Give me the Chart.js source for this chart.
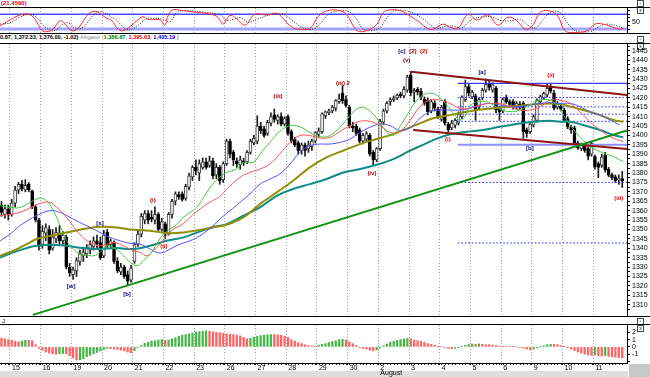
<!DOCTYPE html>
<html>
<head>
<meta charset="utf-8">
<script src="https://cdn.jsdelivr.net/npm/chart.js@4.4.0/dist/chart.umd.min.js"></script>
<style>
  html, body { margin: 0; padding: 0; background: #fff; }
  #page { position: relative; width: 650px; height: 377px; overflow: hidden; background: #fff; font-family: 'Liberation Sans', Arial, sans-serif; }
  canvas { position: absolute; left: 0; }
  .rule { position: absolute; left: 0; width: 650px; height: 1px; background: #000; }
  .txt { position: absolute; white-space: nowrap; line-height: 1; }
  .btns { position: absolute; left: 636px; font-size: 5px; line-height: 5px; }
  .btns span { display: inline-block; width: 5px; height: 5px; border: 1px solid #444; margin-left: 1px; text-align: center; vertical-align: top; color: #000; }
</style>
</head>
<body>
<div id="page">
  <!-- bandes grises de l'axe du temps -->
  <div style="position:absolute;left:0;top:371px;width:628px;height:6px;background:#dedede"></div>
  <div style="position:absolute;left:629px;top:364px;width:21px;height:13px;background:#c8c8c8"></div>

  <div class="txt" style="left:1px;top:0;color:#e00000;font-weight:bold;font-size:6px">(21.4590)</div>
  <div class="btns" style="top:0"><span>&#9643;</span><span>x</span></div>
  <div class="rule" style="top:7px"></div>
  <canvas id="osc" width="650" height="25" style="top:8px;width:650px;height:25px"></canvas>
  <div class="rule" style="top:33px"></div>
  <div class="txt" style="left:0;top:35px;font-weight:bold;font-size:5.6px">
    <span style="color:#000">0.87, 1,372.33, 1,376.00, -1.02)</span>
    <span style="color:#8a8a8a;font-weight:normal">Alligator (</span><span style="color:#008000">1,386.87</span><span style="color:#8a8a8a">, </span><span style="color:#e00000">1,395.63</span><span style="color:#8a8a8a">, </span><span style="color:#0000e0">1,405.19</span><span style="color:#8a8a8a"> )</span>
  </div>
  <div class="btns" style="top:36px"><span>&#9643;</span><span>x</span></div>
  <div class="rule" style="top:43px"></div>
  <canvas id="main" width="650" height="272" style="top:44px;width:650px;height:272px"></canvas>
  <div class="rule" style="top:316px"></div>
  <div class="txt" style="left:2px;top:318px;font-size:6px">J</div>
  <div class="btns" style="top:318px"><span>&#9643;</span><span>x</span></div>
  <div class="rule" style="top:324px"></div>
  <canvas id="ao" width="650" height="52" style="top:325px;width:650px;height:52px"></canvas>
</div>

<script>
// bornes de l'axe du temps (index de barre)
const xMin = -0.43;
const xMax = 183.4;

// début de chaque séance et libellés
const dayStarts = [2.5, 11.5, 20.5, 29.5, 38.5, 47.5, 56.5, 65.5, 74.5, 83.5, 92.5, 101.5, 110.5, 119.5, 128.5, 137.5, 146.5, 155.5, 164.5, 173.5];
const dayLabels = ['15', '16', '19', '20', '21', '22', '23', '26', '27', '28', '29', '30', ['2', 'August'], '3', '4', '5', '6', '9', '10', '11'];

// bougies
const openP = [
  1363, 1358, 1361, 1358, 1364, 1371, 1374, 1371, 1374, 1370.5,
  1362, 1355, 1342, 1348, 1350, 1340, 1345, 1348, 1344, 1346,
  1330, 1326, 1328, 1333, 1336, 1337, 1339, 1341, 1344, 1343,
  1336, 1348.5, 1342, 1343, 1333, 1327.5, 1330, 1326, 1323, 1333,
  1342, 1347.5, 1355, 1358.5, 1356.5, 1355, 1358, 1350, 1353, 1347.5,
  1358, 1365, 1368.5, 1369, 1366.5, 1372.5, 1378, 1383, 1380, 1383,
  1386, 1384, 1386.5, 1379, 1383, 1376.5, 1385, 1397, 1391, 1386.5,
  1384.5, 1386.5, 1386, 1391, 1396, 1397, 1405, 1403.5, 1401, 1406.5,
  1411, 1408, 1410, 1406, 1410, 1402, 1398, 1396, 1392, 1395,
  1393, 1394, 1397, 1400.5, 1402, 1410.5, 1412, 1413, 1414.5, 1418,
  1422.5, 1419, 1415, 1405, 1405, 1403, 1397, 1398, 1400, 1391,
  1387, 1393, 1407, 1413, 1418, 1419, 1420, 1422, 1421, 1424,
  1432, 1423, 1424.5, 1423.5, 1419.5, 1418.8, 1413, 1417, 1414, 1408.5,
  1418, 1406, 1404, 1405.5, 1406.5, 1410, 1419, 1426, 1420.5, 1421,
  1415, 1420, 1424, 1427.5, 1424, 1425, 1414, 1413, 1420, 1418,
  1418, 1415, 1416.5, 1417, 1403, 1402, 1405.5, 1408, 1418, 1420,
  1421.5, 1426, 1422.5, 1415, 1415.5, 1413.5, 1409, 1404.6, 1404, 1396,
  1393, 1394.5, 1393, 1390, 1388.7, 1385, 1384, 1389.5, 1382, 1379,
  1378, 1376.5, 1377
];
const highP = [
  1365, 1363, 1363, 1366, 1373, 1375, 1376, 1376.5, 1375, 1371,
  1363, 1356, 1352, 1353, 1352, 1350, 1351, 1352, 1349, 1347,
  1332, 1330, 1335, 1339, 1340, 1342, 1344, 1346, 1347, 1346,
  1349.5, 1350, 1345, 1344, 1335, 1332, 1331, 1328, 1331, 1343,
  1349, 1358.5, 1360, 1360, 1360, 1362, 1359, 1356, 1354, 1359,
  1366, 1370, 1370, 1370, 1374, 1380, 1384, 1387, 1387, 1388,
  1388, 1389, 1388, 1385, 1384, 1386, 1398, 1398, 1392, 1388,
  1389, 1388, 1392, 1398, 1400, 1410.5, 1407, 1405, 1408, 1412,
  1414, 1411, 1412, 1410, 1411, 1403, 1399, 1397, 1396, 1396,
  1397, 1398, 1402, 1404, 1412, 1413, 1414, 1416, 1419, 1422,
  1426.5, 1421, 1416, 1407, 1406, 1404, 1401, 1402, 1401, 1392,
  1393.5, 1408.5, 1414, 1418, 1420, 1421, 1422, 1423, 1426, 1432,
  1434, 1425, 1425.5, 1425, 1420.5, 1420, 1419, 1418.5, 1415, 1416,
  1419, 1407, 1408, 1409, 1412.5, 1421, 1429.4, 1427.5, 1424, 1422,
  1420, 1425, 1430, 1429, 1428, 1426, 1415.5, 1420, 1421.5, 1419,
  1419, 1418, 1418, 1418, 1404, 1407, 1411, 1419.5, 1421.5, 1423,
  1427.7, 1427.5, 1424, 1418, 1416.5, 1414.5, 1410, 1405.5, 1405, 1397,
  1396, 1395.5, 1394, 1396.7, 1389.5, 1386, 1390, 1391, 1383, 1380,
  1379, 1379, 1380.87
];
const lowP = [
  1357, 1356, 1355, 1357, 1362, 1369, 1370.5, 1370, 1370, 1361,
  1354, 1339, 1340, 1344, 1337, 1339, 1343, 1342, 1342, 1329,
  1325, 1323.5, 1325, 1331, 1333, 1335, 1337, 1339, 1340, 1334,
  1335, 1340, 1340, 1332, 1327, 1326, 1324, 1320.5, 1322, 1332,
  1341, 1346, 1353, 1353, 1354, 1353, 1349, 1349, 1345, 1347,
  1356, 1363, 1366, 1365, 1365.5, 1371, 1376, 1379, 1376, 1382,
  1382, 1383, 1377, 1377, 1374, 1375, 1384, 1388, 1384, 1383,
  1382, 1384, 1385, 1390, 1395, 1395.5, 1401, 1399, 1400, 1405,
  1407, 1406, 1405, 1405, 1400, 1396, 1394, 1390, 1390, 1389,
  1391, 1392, 1396, 1399, 1401, 1409, 1411, 1412, 1413, 1417,
  1417, 1415, 1404, 1402, 1400, 1396, 1395.5, 1397, 1389, 1384,
  1386, 1392, 1406, 1412, 1416, 1418, 1419, 1420, 1420, 1423,
  1421, 1418, 1421.5, 1419, 1416, 1411, 1412, 1413, 1409, 1407.5,
  1405.5, 1402, 1403, 1404, 1405.5, 1409, 1418, 1421, 1419.5, 1408,
  1414, 1419, 1423, 1424, 1423, 1412, 1408, 1412, 1417, 1415,
  1414, 1414, 1414, 1398.5, 1399, 1401, 1404.5, 1407, 1417, 1419,
  1420.5, 1422.5, 1413.5, 1414, 1413, 1407, 1403.5, 1401, 1395, 1392.5,
  1392, 1391, 1387, 1389, 1382, 1377.5, 1383, 1380.5, 1378, 1376.5,
  1375, 1374, 1372.33
];
const closeP = [
  1359, 1361, 1358, 1364, 1371, 1374, 1371.5, 1373.5, 1371, 1362,
  1355, 1341, 1349, 1351, 1339, 1346, 1348.5, 1344, 1347, 1330,
  1327, 1328.5, 1333.5, 1337, 1338, 1340, 1342, 1344, 1342.5, 1335,
  1347, 1341.5, 1344, 1333, 1328, 1330, 1325, 1322.5, 1329.5, 1342,
  1347.5, 1357, 1358.5, 1355, 1355.5, 1358, 1350, 1354, 1347.5, 1358,
  1365, 1369, 1367.5, 1366, 1373, 1378.5, 1383, 1381, 1385, 1386,
  1383, 1386.5, 1378.5, 1383, 1376, 1385, 1397, 1390, 1387, 1385,
  1387, 1385.5, 1391, 1397, 1398.5, 1405, 1402.5, 1400, 1407, 1410,
  1408.5, 1410, 1406, 1409, 1401, 1397, 1395, 1392, 1395, 1392,
  1395, 1397, 1401.5, 1402.5, 1411.5, 1412.5, 1413, 1415, 1418.5, 1419.5,
  1418.5, 1416, 1405, 1404, 1401, 1397, 1400, 1401, 1390, 1387,
  1393, 1407.5, 1413, 1417, 1419, 1420, 1421.5, 1421, 1424.5, 1431,
  1422.5, 1424, 1423, 1420.6, 1417, 1412.6, 1418, 1414.5, 1410, 1415,
  1406.5, 1403, 1406.5, 1408, 1411.5, 1420.5, 1425.9, 1422.4, 1423, 1413,
  1419, 1424, 1427, 1425.5, 1427, 1413.5, 1412.5, 1419, 1418, 1416.5,
  1415.5, 1417, 1415, 1402, 1401, 1406, 1410, 1418.8, 1420.6, 1422.4,
  1425, 1423.5, 1414.5, 1417, 1414, 1408, 1404.6, 1403, 1395.8, 1393.5,
  1395, 1392, 1389, 1395.8, 1383.4, 1383, 1388.5, 1381.6, 1378.9, 1377.6,
  1376, 1377, 1376
];

// moyennes mobiles : [barre, prix]
const lipsGreen = [[-0.4,1362.6],[2.5,1361.7],[5.4,1361.7],[8.4,1364.4],[10.3,1366.2],[11.8,1366.7],[13.7,1364.4],[15.7,1358.2],[17.2,1352],[19.1,1344],[21.1,1339.6],[23,1336.9],[25,1336.4],[27,1336],[28.9,1337.8],[30.9,1341.3],[32.8,1340.4],[34.8,1337.8],[37.2,1333.4],[39.7,1330.7],[41.6,1333.4],[43.6,1336.9],[45.5,1342.2],[47.5,1347.5],[49.4,1350.2],[51.4,1352.8],[53.3,1356.4],[55.3,1359.1],[57.3,1361.7],[59.2,1367],[61.2,1372.4],[63.5,1377],[66,1380.3],[68.9,1382.1],[70.9,1385.7],[73.8,1385.7],[75.8,1390.1],[78.7,1396.3],[81.6,1402.1],[84.6,1405.2],[87.5,1404.6],[90.4,1401.6],[93.4,1399.3],[96.3,1399.9],[99.2,1404.3],[102.2,1410.5],[104.1,1414],[106.1,1414.9],[109,1411.4],[111.9,1404.3],[114.4,1399.9],[116.3,1403.4],[118.8,1410.5],[121.7,1418.5],[124.2,1422],[125.6,1422.4],[127.6,1421.5],[130.5,1416.2],[132.9,1410.8],[134.4,1408.2],[135.9,1410],[137.3,1415.3],[139.3,1417.9],[142.2,1417.9],[144.2,1416.2],[146.1,1413.9],[149.1,1412.6],[152,1413.5],[154.9,1416.2],[157.9,1418.8],[160.8,1418.8],[162.7,1416.2],[165.7,1408.2],[168.6,1401.1],[171.5,1395.8],[175.5,1391.4],[179.4,1388.7],[182.3,1386.1]];
const teethRed = [[-0.4,1357.3],[5.4,1359.1],[11.3,1363.9],[14.2,1364.4],[16.2,1361.7],[19.1,1356.4],[22.1,1349.3],[25,1344],[27,1342.2],[28.9,1341.3],[30.9,1342.2],[32.8,1343.1],[34.8,1342.2],[36.7,1340.4],[38.7,1338.7],[40.6,1337.8],[42.6,1336],[44.5,1338.7],[46.5,1342.2],[48.4,1346.6],[50.4,1350.2],[52.4,1352],[54.3,1354.6],[56.3,1358.2],[58.2,1360.8],[60.2,1363.5],[62.6,1366],[64,1367.5],[67,1373.2],[69.9,1377.7],[72.8,1380.3],[75.8,1382.1],[78.7,1384.8],[81.6,1390.1],[84.6,1396.3],[87.5,1399.9],[90.4,1399.9],[93.4,1398.6],[96.3,1399],[99.2,1402.1],[102.2,1405.2],[105.1,1407.5],[108,1407.5],[111,1405.2],[113.9,1401.6],[116.8,1402.1],[119.8,1408],[122.7,1415.3],[125.6,1418.8],[128.5,1418.8],[131.5,1417],[134.4,1414.4],[137.3,1414.4],[140.3,1416.2],[143.2,1417],[146.1,1417],[149.1,1415.3],[152,1413.5],[154.9,1413.5],[157.9,1415.3],[160.8,1418.8],[163.7,1418.8],[166.7,1417],[169.6,1412.6],[172.5,1407.3],[175.5,1402.9],[178.4,1399.3],[182.3,1396.7]];
const jawBlue = [[-0.4,1344],[2.5,1347.5],[5.4,1352],[8.4,1355.5],[11.3,1358.2],[14.2,1360],[17.2,1359.1],[20.1,1356.4],[23,1353.7],[26,1351.1],[28.9,1348.4],[31.8,1345.8],[34.8,1344],[37.7,1342.6],[40.6,1342.2],[43.6,1339.6],[45.5,1337.8],[47.5,1337.8],[49.4,1339.6],[52.4,1342.2],[55.3,1344],[58.2,1346.6],[60.2,1349.3],[62.6,1352.8],[64,1355.5],[67,1360],[69.9,1364.4],[72.8,1368.8],[75.8,1374.1],[78.7,1376.8],[81.6,1379.5],[84.6,1384.8],[87.5,1391],[90.4,1394.5],[93.4,1395.4],[96.3,1395.4],[99.2,1396.3],[102.2,1398.1],[105.1,1401.6],[108,1404.3],[111,1406],[113.9,1405.2],[116.8,1402.7],[119.8,1404],[122.7,1409.1],[125.6,1412.6],[128.5,1413.5],[131.5,1413.5],[134.4,1413.5],[137.3,1414.4],[140.3,1416.2],[143.2,1417],[146.1,1416.2],[149.1,1415.3],[152,1415.3],[154.9,1416.2],[157.9,1417],[160.8,1417.4],[163.7,1417],[166.7,1417],[169.6,1415.3],[172.5,1412.6],[175.5,1410.8],[178.4,1408.2],[181.3,1405.5]];
const oliveAvg = [[-0.4,1336],[3.5,1338.7],[7.4,1342.2],[10.3,1344.9],[14.2,1346.6],[19.1,1348.4],[24,1350.2],[28.9,1351.4],[33.8,1351.1],[38.7,1349.8],[43.6,1349.3],[48.4,1348.1],[53.3,1348.4],[58.2,1349.7],[62.6,1351.4],[66,1352.5],[70.9,1356.4],[75.8,1363.5],[80.7,1369.7],[85.5,1375.9],[90.4,1383],[95.3,1388.3],[100.2,1391.9],[105.1,1395.4],[110,1398.1],[114.9,1400.7],[119.8,1404.3],[124.2,1407.5],[126.6,1409.1],[131.5,1410.8],[136.4,1412.6],[141.2,1413.9],[146.1,1414.9],[151,1415.6],[155.9,1416.5],[160.8,1417],[163.7,1416.7],[166.7,1415.3],[170.6,1413.5],[175.5,1410.8],[179.4,1408.2],[182.3,1407.3]];
const tealAvg = [[-0.4,1335.1],[3.5,1337.8],[7.4,1340.1],[10.3,1341.3],[14.2,1341.9],[19.1,1341.3],[24,1340.1],[28.9,1339.6],[33.8,1340.1],[38.7,1339.6],[43.6,1341.3],[48.4,1344],[53.3,1345.8],[58.2,1349],[62.6,1351.4],[66,1352.8],[70.9,1357.3],[75.8,1361.7],[80.7,1367.9],[85.5,1371.5],[90.4,1374.1],[95.3,1376.8],[100.2,1380.3],[105.1,1382.1],[110,1384.4],[114.9,1387.4],[119.8,1391.9],[124.2,1395.5],[126.6,1397.5],[131.5,1400.6],[136.4,1402],[141.2,1402.9],[146.1,1404.6],[151,1406.1],[155.9,1407.3],[160.8,1407.8],[163.7,1407.3],[166.7,1407.3],[170.6,1405.5],[175.5,1402.9],[179.4,1400.2],[182.3,1399]];

// droites tracées à la main : [barre, prix]
const greenTrend = [[9.2, 1304.6], [183.4, 1402.6]];
const upperChannel = [[120.1, 1433.8], [183.4, 1421.5]];
const lowerChannel = [[120.7, 1402.9], [183.4, 1392.8]];

// niveaux horizontaux
const levelStart = 133.8;
const solidLevels = [1427.7, 1395];
const dottedLevels = [1420.2, 1415.2, 1411.3, 1407.5, 1375, 1342.8];

// graduations prix
const priceTicks = [1310, 1315, 1320, 1325, 1330, 1335, 1340, 1345, 1350, 1355, 1360, 1365, 1370, 1375, 1380, 1385, 1390, 1395, 1400, 1405, 1410, 1415, 1420, 1425, 1430, 1435, 1440, 1445];

// étiquettes d'Elliott
const waveText = ['[x]', '(i)', '(ii)', '[w]', '[b]', '(iii)', '(iii) 2', '(iv)', '[c]', '[2]', '(2)', '(v)', '[a]', '(ii)', '(i)', '[b]', '(iii)'];
const waveBar = [28.9, 44.4, 47.6, 20.4, 36.8, 81.1, 100.1, 108.6, 117.4, 120.6, 123.8, 118.8, 140.9, 161.1, 130.9, 154.9, 181];
const wavePrice = [1353.4, 1365.6, 1341, 1320, 1315.7, 1420.9, 1427.8, 1380, 1444.8, 1444.8, 1444.8, 1439.7, 1433.7, 1432.1, 1398, 1393.3, 1366.7];

// oscillateur du haut : [barre, valeur]
const oscFast = [[-0.4,32],[2.5,57],[5.4,77],[7.5,81],[9.2,70],[10.7,40],[11.8,15],[13.3,9],[15.1,19],[17.2,54],[18.6,40],[20.7,13],[22.4,23],[24.5,64],[26,87],[28,91],[29.5,77],[30.9,64],[32.4,54],[33.9,23],[35.6,13],[37.7,30],[39.7,54],[41.5,70],[43,60],[46.5,57],[47.9,36],[48.8,73],[50.3,98],[52.9,95],[55.3,91],[58.2,87],[61.1,81],[63.5,68],[64.9,40],[67,75],[69.1,60],[71.4,36],[74.3,80],[77.8,77],[80.8,84],[82.5,64],[85.2,27],[87.5,19],[90.5,23],[92.8,70],[95.4,94],[99.2,95],[101.3,77],[103.6,23],[105.1,9],[108,19],[110.1,40],[111.9,87],[113.9,98],[116.8,95],[119.8,73],[122.7,46],[124.8,23],[126.5,19],[129.5,40],[131.5,27],[133.8,23],[136.8,80],[139.4,57],[142.6,77],[145.6,36],[148.5,68],[151.1,54],[153.5,19],[155.5,30],[157.9,87],[160.2,95],[162.9,77],[165.2,13],[167.6,6],[171.7,13],[174,40],[176.4,40],[179.3,27],[181.3,19],[182.2,23]];
const oscSlow = [[-0.4,40],[2.5,45],[5.4,68],[7.5,79],[9.2,78],[10.7,62],[12.3,35],[14.2,15],[16,16],[18,40],[19.6,45],[21.5,25],[23.3,22],[25.5,50],[27,78],[29,90],[30.5,85],[32,70],[33.4,60],[35,38],[36.6,18],[38.7,22],[40.7,42],[42.5,62],[44,64],[47.5,60],[49,48],[50,58],[51.3,86],[54,96],[56.3,93],[59.2,89],[62.1,84],[64.5,75],[66,55],[68,60],[70,66],[72.4,48],[75.3,62],[78.8,78],[81.8,82],[83.5,74],[86.2,45],[88.5,24],[91.5,20],[93.8,48],[96.4,84],[100.2,95],[102.3,88],[104.6,50],[106.1,18],[109,14],[111.1,28],[112.9,64],[114.9,92],[117.8,96],[120.8,84],[123.7,60],[125.8,36],[127.5,22],[130.5,32],[132.5,32],[134.8,24],[137.8,58],[140.4,68],[143.6,70],[146.6,54],[149.5,54],[152.1,60],[154.5,34],[156.5,24],[158.9,60],[161.2,90],[163.9,86],[166.2,40],[168.6,12],[172.7,10],[175,28],[177.4,40],[180.3,33],[182.5,22]];
const oscBands = [80, 20];

// histogramme du bas
const aoValues = [
  1.2, 1.1, 1.0, 0.9, 0.75, 0.7, 0.8, 0.9, 0.9, 0.85,
  0.3, -0.2, -0.45, -0.7, -0.85, -0.95, -1.0, -0.95, -0.9, -0.95,
  -1.2, -1.5, -1.8, -1.75, -1.6, -1.35, -1.15, -0.95, -0.75, -0.55,
  -0.35, -0.2, -0.25, -0.3, -0.35, -0.45, -0.55, -0.7, -0.8, -0.5,
  -0.1, 0.2, 0.5, 0.65, 0.8, 0.85, 0.95, 1.0, 0.9, 0.95,
  1.1, 1.25, 1.45, 1.6, 1.7, 1.8, 1.9, 2.05, 2.1, 2.15,
  2.2, 2.15, 2.05, 2.0, 1.95, 1.85, 1.8, 1.75, 1.7, 1.6,
  1.5, 1.3, 1.1, 1.2, 1.35, 1.45, 1.55, 1.6, 1.65, 1.7,
  1.7, 1.65, 1.6, 1.45, 1.3, 1.0, 0.8, 0.6, 0.45, 0.3,
  0.2, 0.12, 0.1, 0.2, 0.35, 0.45, 0.6, 0.75, 0.85, 1.0,
  1.05, 0.95, 0.7, 0.45, 0.2, -0.1, -0.2, -0.3, -0.45, -0.55,
  -0.4, -0.15, 0.15, 0.4, 0.65, 0.8, 0.9, 1.0, 1.1, 1.15,
  1.1, 0.95, 0.85, 0.75, 0.6, 0.45, 0.35, 0.25, 0.1, 0.05,
  -0.1, -0.2, -0.25, -0.2, -0.1, 0.05, 0.2, 0.35, 0.4, 0.35,
  0.4, 0.35, 0.3, 0.3, 0.25, 0.2, 0.1, 0.08, 0.05, 0.05,
  0.03, 0.0, -0.05, -0.15, -0.3, -0.4, -0.3, -0.15, 0.05, 0.15,
  0.3, 0.35, 0.35, 0.3, 0.2, 0.05, -0.1, -0.3, -0.5, -0.7,
  -0.85, -1.0, -1.1, -1.15, -1.1, -1.2, -1.25, -1.2, -1.3, -1.35,
  -1.4, -1.45, -1.5
];

const FONT = "'Liberation Sans', Arial, sans-serif";
Chart.defaults.font.family = FONT;

const pts = arr => arr.map(p => ({ x: p[0], y: p[1] }));
const across = v => [{ x: xMin, y: v }, { x: xMax, y: v }];

// axe du temps commun aux trois panneaux
function timeAxis(withLabels) {
  return {
    type: 'linear', min: xMin, max: xMax, bounds: 'data', offset: false,
    afterBuildTicks: s => { s.ticks = dayStarts.map(v => ({ value: v })); },
    afterFit: s => { s.height = withLabels ? 14 : 0; s.paddingLeft = 0; s.paddingRight = 0; },
    grid: { color: '#a0a0a0', lineWidth: 1, offset: false, drawTicks: withLabels, tickLength: 2, tickColor: '#000' },
    border: { display: withLabels, color: '#000', dash: [1, 2] },
    ticks: {
      display: withLabels, autoSkip: false, maxRotation: 0, minRotation: 0, align: 'start',
      labelOffset: 2, padding: 0, color: '#000', font: { size: 7, lineHeight: 0.8 },
      callback: (v, i) => dayLabels[i]
    }
  };
}

// axe de droite commun
function rightAxis(min, max, tickValues, label) {
  return {
    position: 'right', min: min, max: max, bounds: 'data',
    afterBuildTicks: s => { s.ticks = tickValues.map(v => ({ value: v })); },
    afterFit: s => { s.width = 23; s.paddingTop = 0; s.paddingBottom = 0; },
    grid: { drawOnChartArea: false, drawTicks: true, tickLength: 3, color: '#000' },
    border: { display: true, color: '#000', width: 1 },
    ticks: { autoSkip: false, padding: 2, color: '#000', font: { size: 7 }, callback: label }
  };
}

const baseOptions = {
  responsive: false, animation: false, devicePixelRatio: 1,
  layout: { padding: 0 },
  plugins: { legend: { display: false }, tooltip: { enabled: false } },
  events: []
};

// --- panneau du haut ---
new Chart(document.getElementById('osc'), {
  type: 'line',
  data: {
    datasets: [
      { data: pts(oscFast), borderColor: '#ff2a2a', borderWidth: 1, pointRadius: 0, tension: 0.4, order: 0 },
      { data: pts(oscSlow), borderColor: '#222', borderWidth: 1, borderDash: [1, 1.5], pointRadius: 0, tension: 0.4, order: 1 },
      { data: across(oscBands[0]), borderColor: '#4848ff', borderWidth: 1.5, pointRadius: 0, order: 2 },
      { data: across(oscBands[1]), borderColor: '#a4a4ff', borderWidth: 3, pointRadius: 0, order: 2 }
    ]
  },
  options: {
    ...baseOptions,
    scales: {
      x: timeAxis(false),
      y: rightAxis(3.7, 105.7, [20, 35, 50, 65, 80, 95], v => (v === 50 ? '50' : ''))
    }
  }
});

// --- étiquettes d'Elliott ---
const waveTextPlugin = {
  id: 'waveText',
  afterDatasetsDraw(chart) {
    const { ctx, scales: { x, y } } = chart;
    ctx.save();
    ctx.font = 'bold 6px ' + FONT;
    ctx.textAlign = 'center';
    ctx.textBaseline = 'middle';
    waveText.forEach((t, i) => {
      ctx.fillStyle = t.startsWith('[') ? (t === '[2]' ? '#a00000' : '#00007a') : (waveBar[i] > 125 || t === '(2)' || t === '(ii)' ? '#e00000' : '#a00000');
      ctx.fillText(t, x.getPixelForValue(waveBar[i]), y.getPixelForValue(wavePrice[i]));
    });
    ctx.restore();
  }
};

const isUp = i => closeP[i] >= openP[i];
const lineSet = (arr, color, width) => ({ type: 'line', data: pts(arr), borderColor: color, borderWidth: width, pointRadius: 0, tension: 0.4, order: 0 });

const mainSets = [
  { type: 'line', data: pts(greenTrend), borderColor: '#129212', borderWidth: 2, pointRadius: 0, order: 0 },
  { type: 'line', data: pts(upperChannel), borderColor: '#8e1414', borderWidth: 2, pointRadius: 0, order: 0 },
  { type: 'line', data: pts(lowerChannel), borderColor: '#8e1414', borderWidth: 2, pointRadius: 0, order: 0 },
  lineSet(lipsGreen, '#3ec83e', 1),
  lineSet(teethRed, '#ff5252', 1),
  lineSet(jawBlue, '#5252ff', 1),
  lineSet(oliveAvg, '#8f8f0a', 2),
  lineSet(tealAvg, '#138a8a', 2),
  { type: 'line', data: [{ x: levelStart, y: solidLevels[0] }, { x: xMax, y: solidLevels[0] }], borderColor: '#3c3cff', borderWidth: 1.3, pointRadius: 0, order: 1 },
  { type: 'line', data: [{ x: levelStart, y: solidLevels[1] }, { x: xMax, y: solidLevels[1] }], borderColor: '#9090ff', borderWidth: 2, pointRadius: 0, order: 1 }
];
dottedLevels.forEach(v => {
  mainSets.push({ type: 'line', data: [{ x: levelStart, y: v }, { x: xMax, y: v }], borderColor: '#2020ff', borderWidth: 1, borderDash: [1.5, 2], pointRadius: 0, order: 1 });
});
mainSets.push({
  type: 'bar',
  data: openP.map((o, i) => ({ x: i, y: [o, closeP[i]] })),
  backgroundColor: ctx => (isUp(ctx.dataIndex) ? '#ffffff' : '#000000'),
  borderColor: ctx => (isUp(ctx.dataIndex) ? '#3a3a3a' : '#000000'),
  borderWidth: 1, borderSkipped: false, barThickness: 3, minBarLength: 1, grouped: false, order: 2
});
mainSets.push({
  type: 'bar',
  data: lowP.map((l, i) => ({ x: i, y: [l, highP[i]] })),
  backgroundColor: '#1a1a1a', borderWidth: 0, barThickness: 1, grouped: false, order: 3
});

// --- panneau principal ---
new Chart(document.getElementById('main'), {
  type: 'bar',
  data: { datasets: mainSets },
  options: {
    ...baseOptions,
    scales: {
      x: timeAxis(false),
      y: rightAxis(1304, 1448.6, priceTicks.flatMap(v => [v - 2.5, v]).concat([1447.5]),
        v => (priceTicks.includes(v) ? String(v) : ''))
    }
  },
  plugins: [waveTextPlugin]
});

// --- histogramme du bas ---
const barTickPlugin = {
  id: 'barTicks',
  afterDraw(chart) {
    const { ctx, scales: { x }, chartArea } = chart;
    ctx.save();
    ctx.strokeStyle = '#333';
    ctx.lineWidth = 1;
    ctx.beginPath();
    aoValues.forEach((_, i) => {
      const px = Math.round(x.getPixelForValue(i)) + 0.5;
      ctx.moveTo(px, chartArea.bottom + 1);
      ctx.lineTo(px, chartArea.bottom + 2);
    });
    ctx.stroke();
    ctx.restore();
  }
};

new Chart(document.getElementById('ao'), {
  type: 'bar',
  data: {
    datasets: [{
      data: aoValues.map((v, i) => ({ x: i, y: v })),
      backgroundColor: ctx => (ctx.dataIndex > 0 && aoValues[ctx.dataIndex] > aoValues[ctx.dataIndex - 1] ? '#46b846' : '#ff6262'),
      borderWidth: 0, barThickness: 1.6, grouped: false
    }]
  },
  options: {
    ...baseOptions,
    scales: {
      x: timeAxis(true),
      y: rightAxis(-2.2, 3.0, [-2, -1, 0, 1, 2], v => (v >= -1 ? String(v) : ''))
    }
  },
  plugins: [barTickPlugin]
});
</script>
</body>
</html>
